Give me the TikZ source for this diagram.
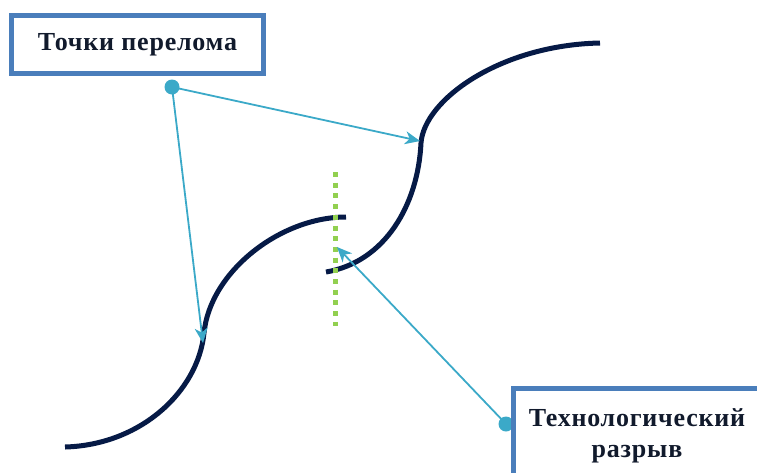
\documentclass[tikz,border=0pt]{standalone}
\usepackage{fontspec}
\setmainfont{Liberation Serif}
\usetikzlibrary{arrows.meta, positioning}

\definecolor{boxblue}{HTML}{4A7EBB}
\definecolor{curvenavy}{HTML}{061A46}
\definecolor{pointerteal}{HTML}{3BA9C8}
\definecolor{gapgreen}{HTML}{92D050}
\definecolor{labeltext}{HTML}{111A2C}

\begin{document}
\begin{tikzpicture}[x=1pt, y=-1pt,
    labelbox/.style={rectangle, draw=boxblue, line width=5pt, fill=white, text=labeltext,
        font=\bfseries\fontsize{26}{31}\selectfont\addfontfeatures{LetterSpace=3}, align=center},
    curve/.style={draw=curvenavy, line width=5pt},
    gapline/.style={draw=gapgreen, line width=5pt, dash pattern=on 5pt off 5.7pt},
    dot/.style={circle, fill=pointerteal, inner sep=0pt, minimum size=15pt},
    arrowline/.style={-{Stealth[length=15pt, width=13pt, inset=4.5pt]}, draw=pointerteal, line width=1.8pt}
    ]
    \clip (0,0) rectangle (757,472);

    % Curve pieces
    \coordinate (lowstart) at (65,447);
    \coordinate (lowbend) at (204,333);
    \coordinate (lowend) at (346,217);
    \draw[curve] (lowstart) .. controls (140,445) and (198,392) .. (lowbend)
        .. controls (210,272) and (280,217) .. (lowend);

    \coordinate (upstart) at (326,272);
    \coordinate (upbend) at (421,143);
    \coordinate (upend) at (600,43);
    \draw[curve] (upstart) .. controls (385,262) and (418,205) .. (upbend)
        .. controls (424,100) and (500,45) .. (upend);

    % Gap line
    \coordinate (gaptop) at (335.5,172);
    \coordinate (gapbottom) at (335.5,326);
    \draw[gapline] (gaptop) -- (gapbottom);

    % Pointers
    \coordinate (uptip) at (420,141);
    \coordinate (lowtip) at (203,343);
    \coordinate (gaptip) at (337,247);
    \node[dot] (bendsdot) at (172,87) {};
    \node[dot] (gapdot) at (506,424) {};
    \draw[arrowline] (bendsdot.center) -- (uptip);
    \draw[arrowline] (bendsdot.center) -- (lowtip);
    \draw[arrowline] (gapdot.center) -- (gaptip);

    % Labels
    \node[labelbox, minimum width=252pt, minimum height=58pt] (bends) at (137.5,44.5) {Точки перелома};
    \node[labelbox, minimum width=247pt, minimum height=95pt] (gap) at (637,436) {Технологический\\разрыв};
\end{tikzpicture}
\end{document}
